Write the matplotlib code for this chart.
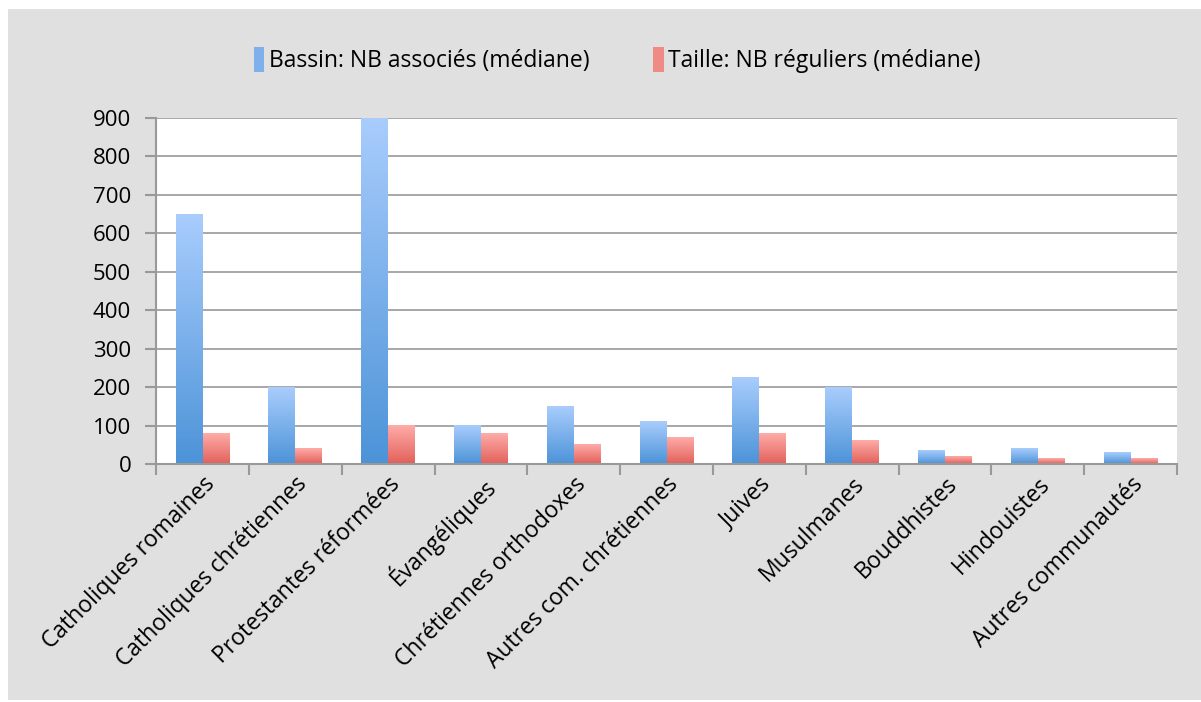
import numpy as np
import matplotlib.pyplot as plt
from matplotlib.patches import Rectangle
from matplotlib.colors import LinearSegmentedColormap

# data
categories = ['Catholiques romaines', 'Catholiques chrétiennes', 'Protestantes réformées',
              'Évangéliques', 'Chrétiennes orthodoxes', 'Autres com. chrétiennes',
              'Juives', 'Musulmanes', 'Bouddhistes', 'Hindouistes', 'Autres communautés']
bassin = [650, 200, 900, 100, 150, 110, 225, 200, 35, 40, 30]
taille = [80, 40, 100, 80, 50, 70, 80, 60, 20, 15, 15]
label_bassin = 'Bassin: NB associés (médiane)'
label_taille = 'Taille: NB réguliers (médiane)'
yticks_vals = [0, 100, 200, 300, 400, 500, 600, 700, 800, 900]

plt.rcParams['font.family'] = ['Open Sans', 'DejaVu Sans']

blue_cmap = LinearSegmentedColormap.from_list('b', ['#4c93d8', '#a9cdfd'])
red_cmap = LinearSegmentedColormap.from_list('r', ['#e2605a', '#ffaca8'])
grad = np.linspace(0, 1, 256).reshape(-1, 1)

fig = plt.figure(figsize=(12.01, 7.02), dpi=100)
fig.patch.set_facecolor('white')
fig.patches.append(Rectangle((8 / 1201, 0.003), 1, 1 - 9 / 702 - 0.003,
                             transform=fig.transFigure, facecolor='#e0e0e0',
                             edgecolor='none', zorder=-10))

ax = fig.add_axes([0.130, 0.339, 0.850, 0.493])
ax.set_facecolor('white')

x = np.arange(len(categories))
w = 0.29
b1 = ax.bar(x - w / 2, bassin, w, color='#7fb0ec', label=label_bassin, zorder=3)
b2 = ax.bar(x + w / 2, taille, w, color='#f08a84', label=label_taille, zorder=3)

# vertical gradient per bar
for bars, cmap in ((b1, blue_cmap), (b2, red_cmap)):
    for p in bars:
        x0, y0 = p.get_x(), p.get_y()
        ax.imshow(grad, cmap=cmap, origin='lower', aspect='auto',
                  extent=(x0, x0 + p.get_width(), y0, y0 + p.get_height()),
                  zorder=4, interpolation='bicubic')

ax.set_xlim(-0.5, len(categories) - 0.5)
ax.set_ylim(0, 900)
ax.set_yticks(yticks_vals)
ax.tick_params(axis='y', labelsize=16, length=8, width=1.5, color='#999999', pad=10)
ax.set_xticks(x)
ax.set_xticklabels(categories, rotation=45, ha='right', rotation_mode='anchor', fontsize=16.5)
ax.tick_params(axis='x', length=0, pad=6)
ax.set_xticks(np.arange(len(categories) + 1) - 0.5, minor=True)
ax.tick_params(axis='x', which='minor', length=8, width=1.5, color='#999999')

ax.grid(axis='y', color='#a0a0a0', linewidth=1.3, zorder=0)
ax.set_axisbelow(True)
for s in ['top', 'right']:
    ax.spines[s].set_visible(False)
for s in ['left', 'bottom']:
    ax.spines[s].set_color('#999999')
    ax.spines[s].set_linewidth(1.5)
    ax.spines[s].set_zorder(5)

fig.legend(handles=[b1, b2], labels=[label_bassin, label_taille], loc='center',
           bbox_to_anchor=(0.514, 1 - 60 / 702), ncol=2, frameon=False, fontsize=16.5,
           handlelength=0.45, handleheight=1.3, handletextpad=0.2, columnspacing=2.8)

fig.savefig('out.png', dpi=100)
